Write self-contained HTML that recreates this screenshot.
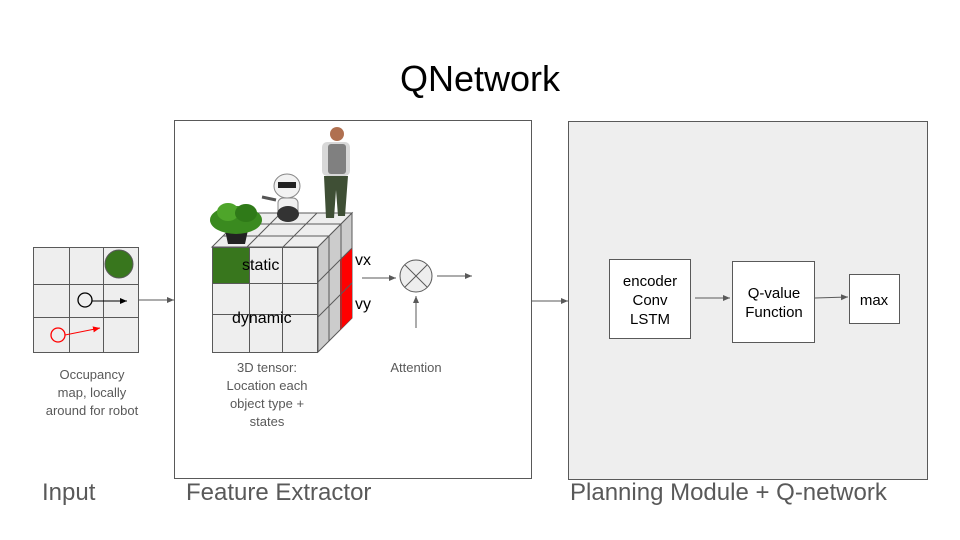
<!DOCTYPE html>
<html><head><style>
html,body{margin:0;padding:0;background:#fff;}
svg{display:block;font-family:"Liberation Sans",Arial,sans-serif;}
</style></head><body>
<svg width="960" height="540" viewBox="0 0 960 540" xmlns="http://www.w3.org/2000/svg">
<defs>
<marker id="a" markerWidth="8" markerHeight="8" refX="7" refY="4" orient="auto" markerUnits="userSpaceOnUse"><path d="M0,1 L7,4 L0,7 z" fill="#595959"/></marker>
<marker id="ab" markerWidth="8" markerHeight="8" refX="7" refY="4" orient="auto" markerUnits="userSpaceOnUse"><path d="M0,1 L7,4 L0,7 z" fill="#000"/></marker>
<marker id="ar" markerWidth="8" markerHeight="8" refX="7" refY="4" orient="auto" markerUnits="userSpaceOnUse"><path d="M0,1 L7,4 L0,7 z" fill="#f00"/></marker>
</defs>
<text x="480" y="91" font-size="36" text-anchor="middle" fill="#000">QNetwork</text>

<rect x="174.5" y="120.5" width="357" height="358" fill="#fff" stroke="#595959"/>
<rect x="568.5" y="121.5" width="359" height="358" fill="#eeeeee" stroke="#595959"/>

<rect x="33.5" y="247.5" width="105" height="105" fill="#eeeeee" stroke="#595959"/>
<line x1="69.5" y1="247" x2="69.5" y2="352" stroke="#595959"/>
<line x1="103.5" y1="247" x2="103.5" y2="352" stroke="#595959"/>
<line x1="33" y1="284.5" x2="138" y2="284.5" stroke="#595959"/>
<line x1="33" y1="317.5" x2="138" y2="317.5" stroke="#595959"/>
<circle cx="119" cy="264" r="14" fill="#38761d" stroke="#595959"/>
<circle cx="85" cy="300" r="7" fill="none" stroke="#000" stroke-width="1.3"/>
<line x1="92" y1="301" x2="127" y2="301" stroke="#000" marker-end="url(#ab)"/>
<circle cx="58" cy="335" r="7" fill="none" stroke="#f00" stroke-width="1.3"/>
<line x1="65" y1="335" x2="100" y2="328" stroke="#f00" marker-end="url(#ar)"/>
<line x1="139" y1="300" x2="174" y2="300" stroke="#595959" marker-end="url(#a)"/>
<text font-size="13" fill="#595959" text-anchor="middle"><tspan x="92" y="379">Occupancy</tspan><tspan x="92" y="397">map, locally</tspan><tspan x="92" y="415">around for robot</tspan></text>

<polygon points="212,247 246,213 352,213 318,247" fill="#eeeeee" stroke="#595959"/>
<line x1="247" y1="247" x2="281" y2="213" stroke="#595959"/>
<line x1="283" y1="247" x2="317" y2="213" stroke="#595959"/>
<line x1="223" y1="236" x2="329" y2="236" stroke="#595959"/>
<line x1="235" y1="224" x2="341" y2="224" stroke="#595959"/>
<polygon points="318,247 352,213 352,318 318,352" fill="#cccccc" stroke="#595959"/>
<polygon points="340,260 352,248 352,318 340,330" fill="#f00"/>
<line x1="329" y1="236" x2="329" y2="341" stroke="#595959"/>
<line x1="341" y1="224" x2="341" y2="329" stroke="#595959"/>
<line x1="318" y1="282" x2="352" y2="248" stroke="#595959"/>
<line x1="318" y1="317" x2="352" y2="283" stroke="#595959"/>
<rect x="212.5" y="247.5" width="105" height="105" fill="#eeeeee" stroke="#595959"/>
<rect x="213" y="248" width="36" height="35" fill="#38761d"/>
<line x1="249.5" y1="247" x2="249.5" y2="352" stroke="#595959"/>
<line x1="282.5" y1="247" x2="282.5" y2="352" stroke="#595959"/>
<line x1="212" y1="283.5" x2="317" y2="283.5" stroke="#595959"/>
<line x1="212" y1="314.5" x2="317" y2="314.5" stroke="#595959"/>
<text x="242" y="270" font-size="16" fill="#000">static</text>
<text x="232" y="323" font-size="16" fill="#000">dynamic</text>
<text x="355" y="265" font-size="16" fill="#000">vx</text>
<text x="355" y="309" font-size="16" fill="#000">vy</text>

<path d="M225,230 L248,230 L245,244 L228,244 Z" fill="#222"/>
<ellipse cx="236" cy="220" rx="26" ry="14" fill="#3a8a1f"/>
<ellipse cx="228" cy="212" rx="11" ry="9" fill="#4ea52a"/>
<ellipse cx="246" cy="213" rx="11" ry="9" fill="#2f7a18"/>
<ellipse cx="287" cy="186" rx="13" ry="12" fill="#f2f2f2" stroke="#888"/>
<rect x="278" y="182" width="18" height="6" fill="#222"/>
<rect x="278" y="198" width="20" height="20" rx="5" fill="#f0f0f0" stroke="#888"/>
<ellipse cx="288" cy="214" rx="11" ry="8" fill="#333"/>
<line x1="276" y1="200" x2="262" y2="197" stroke="#555" stroke-width="3"/>
<circle cx="337" cy="134" r="7" fill="#b07050"/>
<rect x="322" y="142" width="28" height="34" rx="5" fill="#d8d8d8"/>
<rect x="328" y="144" width="18" height="30" rx="3" fill="#808080"/>
<path d="M324,176 L348,176 L345,216 L338,216 L336,190 L334,218 L326,218 Z" fill="#3f4f35"/>

<line x1="362" y1="278" x2="396" y2="278" stroke="#595959" marker-end="url(#a)"/>
<circle cx="416" cy="276" r="16" fill="#eeeeee" stroke="#595959"/>
<line x1="405" y1="265" x2="427" y2="287" stroke="#595959"/>
<line x1="427" y1="265" x2="405" y2="287" stroke="#595959"/>
<line x1="437" y1="276" x2="472" y2="276" stroke="#595959" marker-end="url(#a)"/>
<line x1="416" y1="328" x2="416" y2="296" stroke="#595959" marker-end="url(#a)"/>
<text x="416" y="372" font-size="13" fill="#595959" text-anchor="middle">Attention</text>
<text font-size="13" fill="#595959" text-anchor="middle"><tspan x="267" y="372">3D tensor:</tspan><tspan x="267" y="390">Location each</tspan><tspan x="267" y="408">object type +</tspan><tspan x="267" y="426">states</tspan></text>

<line x1="532" y1="301" x2="568" y2="301" stroke="#595959" marker-end="url(#a)"/>

<rect x="609.5" y="259.5" width="81" height="79" fill="#fff" stroke="#595959"/>
<text font-size="15" fill="#000" text-anchor="middle"><tspan x="650" y="286">encoder</tspan><tspan x="650" y="305">Conv</tspan><tspan x="650" y="324">LSTM</tspan></text>
<line x1="695" y1="298" x2="730" y2="298" stroke="#595959" marker-end="url(#a)"/>
<rect x="732.5" y="261.5" width="82" height="81" fill="#fff" stroke="#595959"/>
<text font-size="15" fill="#000" text-anchor="middle"><tspan x="774" y="298">Q-value</tspan><tspan x="774" y="317">Function</tspan></text>
<line x1="815" y1="298" x2="848" y2="297" stroke="#595959" marker-end="url(#a)"/>
<rect x="849.5" y="274.5" width="50" height="49" fill="#fff" stroke="#595959"/>
<text x="874" y="305" font-size="15" fill="#000" text-anchor="middle">max</text>

<text x="42" y="500" font-size="24" fill="#595959">Input</text>
<text x="186" y="500" font-size="24" fill="#595959">Feature Extractor</text>
<text x="570" y="500" font-size="24" fill="#595959">Planning Module + Q-network</text>
</svg>
</body></html>
